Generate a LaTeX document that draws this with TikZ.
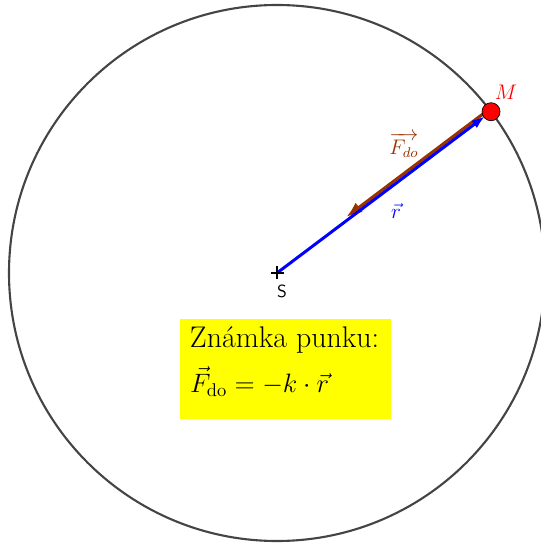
\documentclass[tikz,border=0pt]{standalone}
\usepackage{amsmath,amssymb}
\usepackage{xcolor}
\usepackage{tikz}
\usetikzlibrary{arrows.meta,positioning,calc}

\definecolor{forcebrown}{RGB}{153,51,0}
\definecolor{orbitgray}{RGB}{68,68,68}
\definecolor{noteyellow}{RGB}{255,255,0}

\begin{document}
\begin{tikzpicture}[
  font=\normalsize,
  orbit/.style={draw=orbitgray, line width=1.2pt},
  rvec/.style={blue, line width=1.7pt, -{Latex[length=2.8mm,width=1.8mm]}},
  fvec/.style={forcebrown, line width=1.8pt, -{Latex[length=3.2mm,width=2.4mm]}},
  pointmark/.style={draw=black, circle, fill=red, minimum size=0.36cm, inner sep=0pt, thin},
  notebox/.style={fill=noteyellow, minimum width=4.22cm, minimum height=2cm, inner sep=0pt},
  noteline/.style={anchor=base west, inner sep=0pt}
]
\useasboundingbox (-5.54,-5.4) rectangle (5.26,5.46);
\coordinate (S) at (0,0);
\coordinate (Mc) at (37:5.36);
\draw[orbit] (S) circle (5.36);
% vectors
\draw[fvec] ($(Mc)+(127:0.06)$) -- ($(S)+(37:1.78)+(127:0.06)$);
\draw[rvec] (S) -- ($(Mc)+(217:0.14)$);
\node[pointmark] (M) at (Mc) {};
\node[red, font=\large] (Mlab) at (4.58,3.62) {$M$};
\node[forcebrown, font=\large] (Flab) at (2.54,2.56) {$\overrightarrow{F_{do}}$};
\node[blue, font=\large] (rlab) at (2.38,1.24) {$\vec{r}$};
% centre
\draw[line width=1.6pt] ($(S)+(-0.13,0)$) -- ($(S)+(0.13,0)$);
\draw[line width=1.6pt] ($(S)+(0,-0.13)$) -- ($(S)+(0,0.13)$);
\node[font=\sffamily] (Slab) at (0.1,-0.36) {S};
% yellow note
\node[notebox] (note) at (0.17,-1.92) {};
\node[noteline, font=\fontsize{17}{20}\selectfont] (notetitle) at ($(note.north west)+(0.2,-0.58)$) {Známka punku:};
\node[noteline, font=\fontsize{14.4}{17}\selectfont, scale=1.05, transform shape] (noteformula) at ($(note.north west)+(0.2,-1.48)$)
 {$\vec{F}_{\mathrm{do}} = -k\cdot\vec{r}$};
\end{tikzpicture}
\end{document}
